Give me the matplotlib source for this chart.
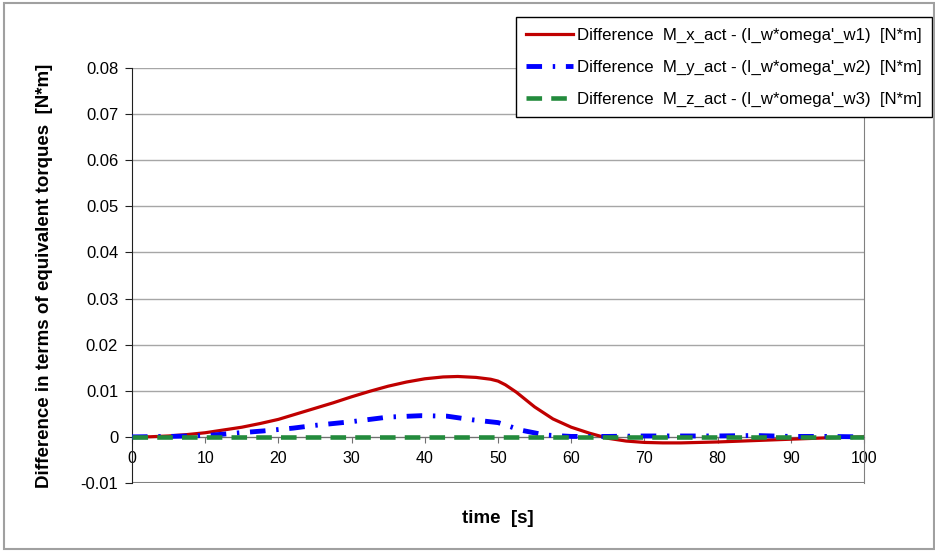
import matplotlib
matplotlib.use("Agg")
import matplotlib.pyplot as plt
from matplotlib.patches import Rectangle

plt.rcParams['font.family'] = ['Liberation Sans', 'DejaVu Sans']

# time samples [s] and values [N*m]
t_x = [0, 2.5, 5, 7.5, 10, 12.5, 15, 17.5, 20, 22.5, 25, 27.5, 30, 32.5, 35,
       37.5, 40, 42.5, 44.5, 47, 49, 50, 51, 52.5, 55, 57.5, 60, 62.5, 65,
       67.5, 70, 72.5, 75, 77.5, 80, 85, 90, 95, 100]
m_x = [0, 0.00003, 0.0002, 0.0005, 0.0009, 0.0015, 0.0021, 0.0029, 0.0038,
       0.0050, 0.0062, 0.0074, 0.0087, 0.0099, 0.0110, 0.0119, 0.0126, 0.0130,
       0.0131, 0.0129, 0.0125, 0.0121, 0.0113, 0.0097, 0.0065, 0.0039, 0.0021,
       0.0008, -0.0003, -0.0009, -0.0012, -0.0013, -0.0013, -0.0012, -0.0011,
       -0.0008, -0.0005, -0.0002, 0]

t_y = [0, 5, 8, 11, 14, 18, 22, 25, 30, 35, 39.5, 43, 46.5, 50, 51, 53, 56.5,
       60, 65, 70, 75, 80, 85, 90, 95, 100]
m_y = [0, 0.0001, 0.0002, 0.0004, 0.0008, 0.0013, 0.0019, 0.0025, 0.0033,
       0.0043, 0.0046, 0.0045, 0.0037, 0.0031, 0.0026, 0.0015, 0.0004,
       0.0001, 0.0001, 0.0002, 0.0002, 0.0002, 0.0003, 0.0001, 0.0001, 0]

t_z = [0, 25, 50, 75, 100]
m_z = [0, 0, 0, 0, 0]

labels = ["Difference  M_x_act - (I_w*omega'_w1)  [N*m]",
          "Difference  M_y_act - (I_w*omega'_w2)  [N*m]",
          "Difference  M_z_act - (I_w*omega'_w3)  [N*m]"]

fig = plt.figure(figsize=(9.35, 5.51), dpi=100)
ax = fig.add_axes([0.1412, 0.1234, 0.7829, 0.7532])

# outer chart frame
fig.patches.append(Rectangle((0.004, 0.004), 0.995, 0.99, transform=fig.transFigure,
                             fill=False, edgecolor='#a0a0a0', lw=1.5))

ax.plot(t_x, m_x, color='#c00000', lw=2.3, label=labels[0], zorder=3)
ax.plot(t_y, m_y, color='#0000ff', lw=3.5, dashes=(3.2, 2.2, 0.5, 2.2),
        label=labels[1], zorder=4)
ax.plot(t_z, m_z, color='#238b3c', lw=3.3, dashes=(3.4, 2), label=labels[2], zorder=5)

ax.set_xlim(0, 100)
ax.set_ylim(-0.01, 0.08)
ax.set_xticks(range(0, 101, 10))
ax.set_yticks([-0.01, 0, 0.01, 0.02, 0.03, 0.04, 0.05, 0.06, 0.07, 0.08])
ax.set_yticklabels(['-0.01', '0', '0.01', '0.02', '0.03', '0.04', '0.05',
                    '0.06', '0.07', '0.08'])

ax.yaxis.grid(True, color='#a6a6a6', lw=1)
ax.set_axisbelow(True)
ax.spines['top'].set_visible(False)
ax.spines['right'].set_color('#808080')
ax.spines['left'].set_color('#202020')
ax.spines['bottom'].set_position(('data', 0))
ax.spines['bottom'].set_color('#707070')
ax.axhline(-0.01, color='#808080', lw=1.5, zorder=1)

ax.tick_params(axis='y', direction='out', length=5, labelsize=12, color='#202020', pad=5)
ax.tick_params(axis='x', direction='out', length=4, labelsize=11.5, color='#707070', pad=6)

ax.set_xlabel('time  [s]', fontsize=13.5, fontweight='bold')
ax.xaxis.set_label_coords(0.5, -0.066)
ax.set_ylabel('Difference in terms of equivalent torques  [N*m]', fontsize=13.5,
              fontweight='bold')
ax.yaxis.set_label_coords(-0.108, 0.5)

leg = ax.legend(loc='upper right', bbox_to_anchor=(0.9968, 0.969),
                bbox_transform=fig.transFigure, fontsize=12.1, frameon=True,
                fancybox=False, edgecolor='black', framealpha=1,
                handlelength=2.8, handletextpad=0.2, borderpad=0.62,
                borderaxespad=0, labelspacing=1.0)
leg.get_frame().set_linewidth(1)

fig.savefig('out.png', dpi=100)
